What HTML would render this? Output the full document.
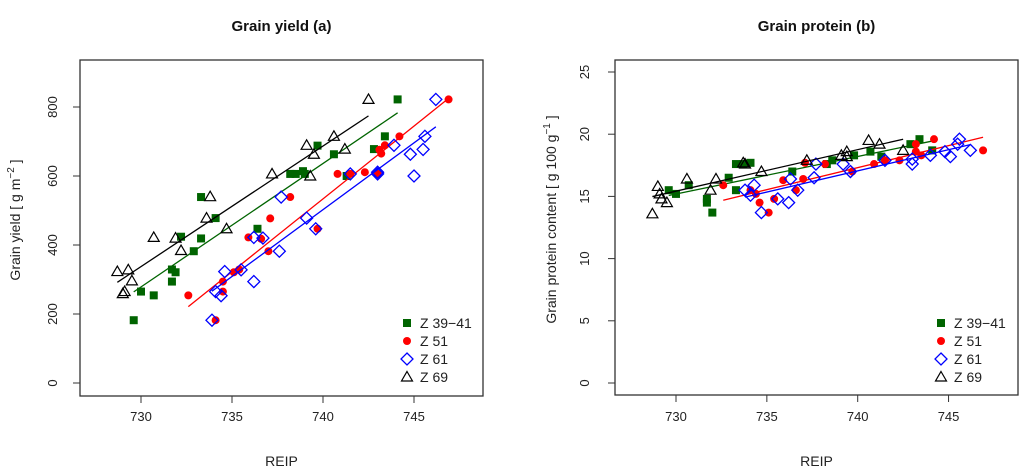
<!DOCTYPE html>
<html><head><meta charset="utf-8"><style>
body{margin:0;background:#fff}
svg{display:block;font-family:"Liberation Sans",Arial,sans-serif}
</style></head><body>
<svg id="chart" width="1024" height="470" viewBox="0 0 1024 470" xmlns="http://www.w3.org/2000/svg"></svg>
<script>
// Panel (a) Grain yield data
const yieldZ39x=[729.6,730.0,730.7,731.7,731.9,731.7,732.2,732.9,733.3,733.3,734.1,736.4,738.2,738.5,738.9,739.0,739.7,740.6,741.3,742.8,743.4,744.1];
const yieldZ39y=[182,265,254,329,321,294,424,382,419,539,478,447,606,606,614,606,688,663,600,678,715,822];
const yieldZ51x=[732.6,734.1,734.5,734.5,735.1,735.4,735.9,736.6,737.0,737.1,738.2,739.7,740.8,741.5,742.3,743.0,743.1,743.2,743.4,744.2,746.9];
const yieldZ51y=[254,182,265,294,321,329,422,418,382,477,539,447,606,606,611,606,676,665,689,715,822];
const yieldZ61x=[733.9,734.1,734.4,734.6,735.5,736.2,736.2,736.7,737.6,737.7,739.1,739.6,741.5,743.0,743.0,743.9,744.8,745.0,745.5,745.6,746.2];
const yieldZ61y=[182,265,253,323,328,294,422,420,382,539,478,447,606,606,611,689,663,600,677,715,822];
const yieldZ69x=[728.7,729.3,729.0,729.1,729.5,730.7,731.9,732.2,733.6,733.8,734.7,737.2,739.1,739.5,739.3,740.6,741.2,742.5];
const yieldZ69y=[323,328,259,265,296,422,420,384,478,540,447,606,689,663,600,715,678,822];
// Panel (b) Grain protein data
const protZ39x=[729.6,730.0,730.7,731.7,731.7,732.0,732.9,733.3,733.3,733.7,734.1,736.4,738.3,738.6,739.8,740.7,741.3,742.9,743.4,744.1];
const protZ39y=[15.5,15.2,15.9,14.8,14.5,13.7,16.5,15.5,17.6,17.6,17.7,17.0,17.6,17.9,18.3,18.6,18.2,19.2,19.6,18.7];
const protZ51x=[732.6,734.1,734.4,734.6,735.1,735.4,735.9,736.6,737.0,737.1,738.2,739.7,740.9,741.5,742.3,743.2,743.2,743.5,744.2,746.9];
const protZ51y=[15.9,15.5,15.2,14.5,13.7,14.8,16.3,15.5,16.4,17.7,17.6,17.0,17.6,17.9,17.9,19.2,18.6,18.3,19.6,18.7];
const protZ61x=[733.8,734.1,734.3,734.7,735.6,736.2,736.3,736.7,737.6,737.7,739.2,739.6,741.5,743.0,743.0,744.0,744.8,745.1,745.5,745.6,746.2];
const protZ61y=[15.5,15.1,15.9,13.7,14.8,14.5,16.4,15.5,16.5,17.6,17.6,17.0,17.9,17.6,18.0,18.3,18.6,18.2,19.2,19.6,18.7];
const protZ69x=[728.7,729.0,729.1,729.2,729.5,730.6,731.9,732.2,733.7,733.8,734.7,737.2,739.1,739.4,739.4,740.6,741.2,742.5];
const protZ69y=[13.6,15.8,15.2,14.8,14.5,16.4,15.5,16.4,17.7,17.6,17.0,17.9,18.3,18.6,18.2,19.5,19.2,18.7];
const xTicks=[730,735,740,745];
const yieldTicks=[0,200,400,600,800];
const protTicks=[0,5,10,15,20,25];
const seriesNames=["Z 39\u221241","Z 51","Z 61","Z 69"];

const svg=document.getElementById('chart');
const NS="http://www.w3.org/2000/svg";
function mk(tag,attrs,parent){const e=document.createElementNS(NS,tag);for(const k in attrs)e.setAttribute(k,attrs[k]);(parent||svg).appendChild(e);return e;}
const colors=["#006400","#ff0000","#0000ff","#000000"];
function marker(g,k,cx,cy){
  let e;
  if(k===0){e=mk('rect',{x:cx-4,y:cy-4,width:8,height:8,fill:colors[0]},g);}
  else if(k===1){e=mk('circle',{cx:cx,cy:cy,r:4,fill:colors[1]},g);}
  else if(k===2){e=mk('polygon',{points:`${cx},${cy-6} ${cx+6},${cy} ${cx},${cy+6} ${cx-6},${cy}`,fill:'none',stroke:colors[2],'stroke-width':1.3},g);}
  else {e=mk('polygon',{points:`${cx},${cy-5.5} ${cx+5.5},${cy+4} ${cx-5.5},${cy+4}`,fill:'none',stroke:colors[3],'stroke-width':1.2},g);}
  return e;
}
function fit(xs,ys){const n=xs.length;let mx=0,my=0;for(let i=0;i<n;i++){mx+=xs[i];my+=ys[i];}mx/=n;my/=n;let sxy=0,sxx=0;for(let i=0;i<n;i++){sxy+=(xs[i]-mx)*(ys[i]-my);sxx+=(xs[i]-mx)**2;}const b=sxy/sxx;return [my-b*mx,b];}

function panel(opt){
  const {name,left,right,top,bottom,x730,xPer,y0,yPer,series,yt,title,ytitle,tickX,titleX}=opt;
  const g=mk('g',{});
  const sx=v=>x730+(v-730)*xPer, sy=v=>y0-v*yPer;
  const box=mk('rect',{x:left,y:top,width:right-left,height:bottom-top,fill:'none',stroke:'#333','stroke-width':1.3},g);
  
  const xa=mk('g',{},g);
  
  mk('line',{x1:sx(xTicks[0]),x2:sx(xTicks[xTicks.length-1]),y1:bottom,y2:bottom,stroke:'#333'},xa);
  xTicks.forEach(t=>{mk('line',{x1:sx(t),x2:sx(t),y1:bottom,y2:bottom+7,stroke:'#333'},xa);
    const tx=mk('text',{x:sx(t),y:421,'text-anchor':'middle','font-size':13,fill:'#222'},xa);tx.textContent=t;
    });
  const ya=mk('g',{},g);
  
  yt.forEach(t=>{mk('line',{x1:left,x2:left-7,y1:sy(t),y2:sy(t),stroke:'#333'},ya);
    const tx=mk('text',{x:0,y:0,'text-anchor':'middle','font-size':13,fill:'#222',transform:`translate(${tickX},${sy(t)}) rotate(-90)`},ya);tx.textContent=t;
    });
  mk('line',{x1:left,x2:left,y1:sy(yt[0]),y2:sy(yt[yt.length-1]),stroke:'#333'},ya);
  const ti=mk('text',{x:(left+right)/2,y:31,'text-anchor':'middle','font-size':15,'font-weight':'bold',fill:'#111'},g);ti.textContent=title;
  
  const xl=mk('text',{x:(left+right)/2,y:466,'text-anchor':'middle','font-size':14,fill:'#222'},g);xl.textContent='REIP';
  
  const yl=mk('text',{x:0,y:0,'text-anchor':'middle','font-size':14,fill:'#222',transform:`translate(${titleX},${(top+bottom)/2-8}) rotate(-90)`},g);
  yl.innerHTML=ytitle;
  
  series.forEach((s,k)=>{
    const sg=mk('g',{},g);
    
    
    const [a,b]=fit(s[0],s[1]);const mn=Math.min(...s[0]),mxv=Math.max(...s[0]);
    const ln=mk('line',{x1:sx(mn),y1:sy(a+b*mn),x2:sx(mxv),y2:sy(a+b*mxv),stroke:colors[k],'stroke-width':1.3},sg);
    
    s[0].forEach((x,i)=>{const m=marker(sg,k,sx(x),sy(s[1][i]));
      });
  });
  const lg=mk('g',{},g);
  
  seriesNames.forEach((n,k)=>{const yy=323+k*18;
    const e=mk('g',{},lg);
    marker(e,k,opt.legX,yy);
    const t=mk('text',{x:opt.legX+13,y:yy+5,'font-size':14,fill:'#222'},e);t.textContent=n;});
}
panel({name:'panel-grain-yield',left:80,right:483,top:60,bottom:396,x730:141,xPer:18.2,y0:383,yPer:0.345,
  series:[[yieldZ39x,yieldZ39y],[yieldZ51x,yieldZ51y],[yieldZ61x,yieldZ61y],[yieldZ69x,yieldZ69y]],
  yt:yieldTicks,title:'Grain yield (a)',ytitle:'Grain yield [ g m<tspan dy="-6" font-size="10">\u22122</tspan><tspan dy="6"> ]</tspan>',tickX:57,titleX:20,legX:407});
panel({name:'panel-grain-protein',left:615,right:1018,top:60,bottom:395,x730:676,xPer:18.17,y0:383,yPer:12.44,
  series:[[protZ39x,protZ39y],[protZ51x,protZ51y],[protZ61x,protZ61y],[protZ69x,protZ69y]],
  yt:protTicks,title:'Grain protein (b)',ytitle:'Grain protein content [ g 100 g<tspan dy="-6" font-size="10">\u22121</tspan><tspan dy="6"> ]</tspan>',tickX:589,titleX:556,legX:941});
</script>
</body></html>
